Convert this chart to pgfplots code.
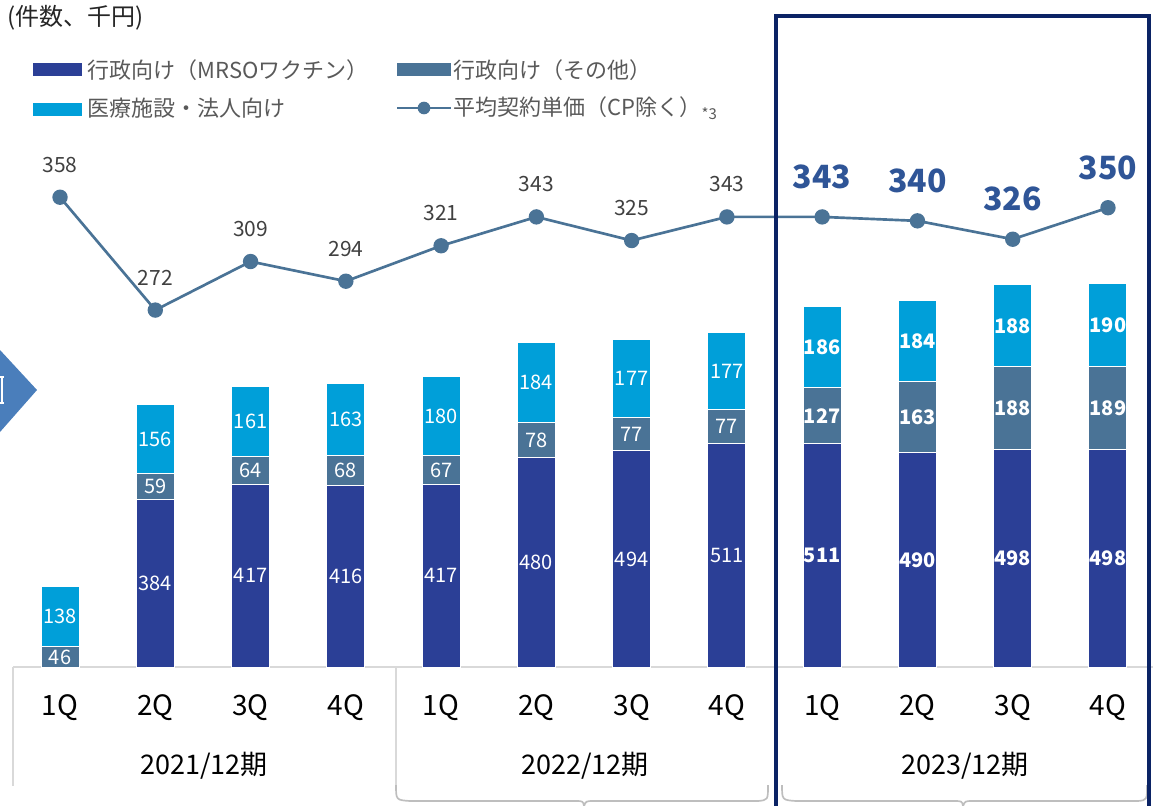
\documentclass[border=0pt]{standalone}
\usepackage{fontspec}
\setmainfont{Noto Sans CJK JP}
\usepackage{pgfplots}
\pgfplotsset{compat=1.18}

\definecolor{cMrso}{HTML}{2B3F96}
\definecolor{cOther}{HTML}{4A7396}
\definecolor{cMed}{HTML}{009FD9}
\definecolor{cLine}{HTML}{4A7396}
\definecolor{cBold}{HTML}{2F5597}
\definecolor{cFrame}{HTML}{0B2365}
\definecolor{cLab}{HTML}{404040}
\definecolor{cLeg}{HTML}{595959}
\definecolor{cGrid}{HTML}{D9D9D9}
\definecolor{cArrow}{HTML}{4A7EBB}

\newcommand\fs[1]{\fontsize{#1}{#1}\selectfont}

\pgfplotsset{
  /pgf/number format/assume math mode=true,
  base/.style={
    at={(3.72pt,41.4pt)}, anchor=south west,
    x=28.58pt, xmin=-0.5, xmax=11.5, ymin=0, clip=false},
  bars/.style={
    base, y=0.13122pt, ymax=1200,
    ybar stacked, bar width=11.4pt,
    axis line style={draw=none}, tick style={draw=none},
    ytick=\empty,
    visualization depends on={rawy \as \rawy},
    nodes near coords={\pgfmathfloatifflags{\pgfplotspointmeta}{0}{}{\pgfmathprintnumber{\rawy}}},
    every node near coord/.append style={anchor=center, text=white, inner sep=0pt}},
  seg/.style={fill=#1, draw=white, line width=0.3pt},
}

\begin{document}
\begin{tikzpicture}
\path[use as bounding box] (0,0) rectangle (350.1pt,241.5pt);

% pixel grid of the reference: (X,Y) from top left
\begin{scope}[x=0.3pt,y=-0.3pt,yshift=241.5pt]
  \draw[cGrid, line width=0.6pt] (13,667) -- (1153,667);
  \draw[cGrid, line width=0.6pt] (13,667) -- (13,786);
  \draw[cGrid, line width=0.6pt] (396,667) -- (396,786);
  \fill[cArrow] (0,350) -- (37,390) -- (0,432) -- cycle;
  \draw[white, line width=0.4pt] (2,377) -- (2,403) (0,377) -- (4,377) (0,403) -- (4,403);
\end{scope}

% bars 2021/12 and 2022/12, with the quarter labels
\begin{axis}[bars,
  xtick={0,...,11},
  xticklabels={1Q,2Q,3Q,4Q,1Q,2Q,3Q,4Q,1Q,2Q,3Q,4Q},
  xticklabel style={font=\fs{8.4}, anchor=base, yshift=-14.4pt},
  every node near coord/.append style={font=\fs{6}}]
\addplot[seg=cMrso] coordinates {(0,0) (1,384) (2,417) (3,416) (4,417) (5,480) (6,494) (7,511)};
\addplot[seg=cOther] coordinates {(0,46) (1,59) (2,64) (3,68) (4,67) (5,78) (6,77) (7,77)};
\addplot[seg=cMed] coordinates {(0,138) (1,156) (2,161) (3,163) (4,180) (5,184) (6,177) (7,177)};
\end{axis}

% bars 2023/12
\begin{axis}[bars, xtick=\empty,
  every node near coord/.append style={font=\fs{6}\bfseries}]
\addplot[seg=cMrso] coordinates {(8,511) (9,490) (10,498) (11,498)};
\addplot[seg=cOther] coordinates {(8,127) (9,163) (10,188) (11,189)};
\addplot[seg=cMed] coordinates {(8,186) (9,184) (10,188) (11,190)};
\end{axis}

% average contract price
\begin{axis}[base, y=0.39366pt, ymax=400, hide axis]
\addplot[cLine, line width=0.8pt, mark=*, mark size=1.9pt,
  mark options={fill=cLine, draw=cLine}] coordinates {
  (0,358) (1,272) (2,309) (3,294) (4,321) (5,343) (6,325) (7,343)
  (8,343) (9,340) (10,326) (11,350)};
\addplot[draw=none, mark=none, nodes near coords,
  every node near coord/.append style={anchor=base, yshift=7.5pt,
    font=\fs{6.3}, text=cLab, inner sep=0pt}] coordinates {
  (0,358) (1,272) (2,309) (3,294) (4,321) (5,343) (6,325) (7,343)};
\addplot[draw=none, mark=none, nodes near coords,
  every node near coord/.append style={anchor=base, yshift=8.6pt,
    font=\fs{9.6}\bfseries, text=cBold, inner sep=0pt}] coordinates {
  (8,343) (9,340) (10,326) (11,350)};
\end{axis}

\begin{scope}[x=0.3pt,y=-0.3pt,yshift=241.5pt]
  \node[anchor=west, inner sep=0pt, font=\fs{7.2}, text=black!85] at (7,18) {(件数、千円)};
  % legend
  \fill[cMrso] (33,63) rectangle (82,76);
  \node[anchor=west, inner sep=0pt, font=\fs{6.6}, text=cLeg] at (87,70) {行政向け（MRSOワクチン）};
  \fill[cOther] (397,63) rectangle (451,76);
  \node[anchor=west, inner sep=0pt, font=\fs{6.6}, text=cLeg] at (453,70) {行政向け（その他）};
  \fill[cMed] (33,103) rectangle (82,116);
  \node[anchor=west, inner sep=0pt, font=\fs{6.6}, text=cLeg] at (87,108) {医療施設・法人向け};
  \draw[cLine, line width=0.8pt] (397,108) -- (451,108);
  \fill[cLine] (424,108) circle (1.9pt);
  \node[anchor=west, inner sep=0pt, font=\fs{6.6}, text=cLeg] at (453,108)
    {平均契約単価（CP除く）\raisebox{-1.2pt}{\fs{4.5}*3}};
  % period labels
  \node[font=\fs{8.1}] at (204,766) {2021/12期};
  \node[font=\fs{8.1}] at (585,766) {2022/12期};
  \node[font=\fs{8.1}] at (965,766) {2023/12期};
  % braces at the bottom
  \draw[cGrid!70!gray, line width=0.5pt]
    (396,785) .. controls (396,800) .. (410,801) -- (575,801) .. controls (583,801) .. (584,806)
    (584,806) .. controls (586,801) .. (594,801) -- (758,801) .. controls (768,800) .. (768,785);
  \draw[cGrid!70!gray, line width=0.5pt]
    (782,785) .. controls (782,800) .. (796,801) -- (953,801) .. controls (962,801) .. (963,806)
    (963,806) .. controls (965,801) .. (973,801) -- (1138,801) .. controls (1147,800) .. (1147,785);
  % highlight frame
  \draw[cFrame, line width=1.2pt] (775.5,16) rectangle (1149,815);
\end{scope}
\end{tikzpicture}
\end{document}
